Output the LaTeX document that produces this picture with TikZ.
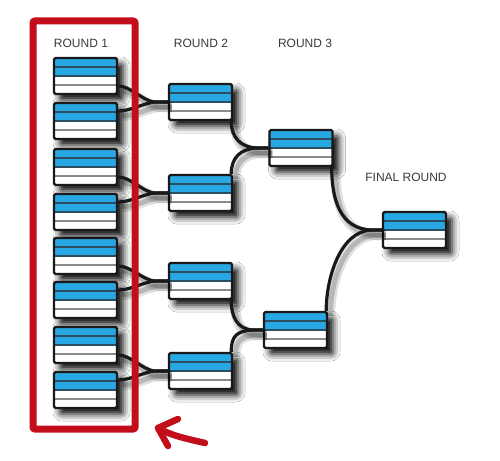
\documentclass[tikz,border=0pt]{standalone}
\usepackage{fontspec}
\setmainfont{Liberation Sans}
\usetikzlibrary{calc,shadows.blur}
\definecolor{bblue}{HTML}{27A8E3}
\definecolor{bdiv}{HTML}{2B4E63}
\definecolor{wdiv}{HTML}{8A8A8A}
\definecolor{fred}{HTML}{C20E1A}
\definecolor{lbl}{HTML}{3A3A3A}
\newcommand\joinA[3]{%
  \coordinate (m#3) at ($(#3.west)+(-14,0)$);
  \draw[conn] ($(#1.east)+(0,10)$) .. controls +(12,0) and ($(m#3)+(-12,-2)$) .. (m#3) -- (#3.west);
  \draw[conn] ($(#2.east)+(0,-10)$) .. controls +(12,0) and ($(m#3)+(-12,2)$) .. (m#3) -- (#3.west);
}
\newcommand\joinB[5]{%
  \coordinate (m#3) at ($(#3.west)+(-#4,0)$);
  \draw[conn] ($(#1.south east)+(-2,0)$) .. controls +(0,#5) and ($(m#3)+(-#5,-1)$) .. (m#3) -- (#3.west);
  \draw[conn] ($(#2.north east)+(-2,0)$) .. controls +(0,-#5) and ($(m#3)+(-#5,1)$) .. (m#3) -- (#3.west);
}
\begin{document}
\begin{tikzpicture}[x=1pt,y=-1pt,
  match/.style={rounded corners=1.5pt, outer sep=1.2pt,
    minimum width=63pt, minimum height=36pt, inner sep=0pt, fill=white,
    blur shadow={shadow xshift=6pt, shadow yshift=-6pt, shadow blur radius=7pt, shadow opacity=100},
    path picture={
      \fill[bblue] (path picture bounding box.north west) rectangle (path picture bounding box.east);
      \draw[bdiv, line width=1.3pt]
        ($(path picture bounding box.north west)!0.25!(path picture bounding box.south west)$) --
        ($(path picture bounding box.north east)!0.25!(path picture bounding box.south east)$);
      \draw[bdiv, line width=1.3pt] (path picture bounding box.west) -- (path picture bounding box.east);
      \draw[wdiv, line width=1.3pt]
        ($(path picture bounding box.north west)!0.75!(path picture bounding box.south west)$) --
        ($(path picture bounding box.north east)!0.75!(path picture bounding box.south east)$);
    },
    postaction={draw=black!90, line width=2.4pt}},
  conn/.style={line width=3.2pt, draw=black!90,
    preaction={draw=black, line width=10pt, opacity=0.12, transform canvas={xshift=4pt,yshift=-5pt}},
    preaction={draw=black, line width=5pt, opacity=0.18, transform canvas={xshift=4pt,yshift=-5pt}}},
  lbl/.style={text=lbl, font=\fontsize{12}{14}\selectfont, inner sep=0pt},
]
\fill[white] (0,0) rectangle (500,460);
\useasboundingbox (0,0) rectangle (500,460);

% labels
\node[lbl] (t1) at (81,43) {ROUND 1};
\node[lbl] (t2) at (201,43) {ROUND 2};
\node[lbl] (t3) at (305,43) {ROUND 3};
\node[lbl] (t4) at (406,177) {FINAL ROUND};

% matches
\path (85.5,76) node[match] (a1) {} (85.5,121) node[match] (a2) {}
      (85.5,167) node[match] (a3) {} (85.5,212) node[match] (a4) {}
      (85.5,256) node[match] (a5) {} (85.5,300) node[match] (a6) {}
      (85.5,345) node[match] (a7) {} (85.5,390) node[match] (a8) {};
\path (200.5,102) node[match] (b1) {} (200.5,193) node[match] (b2) {}
      (200.5,281) node[match] (b3) {} (200.5,371) node[match] (b4) {};
\path (301,148) node[match] (c1) {} (295.5,330) node[match] (c2) {};
\path (414.5,230) node[match] (d1) {};

% connectors
\joinA{a1}{a2}{b1}
\joinA{a3}{a4}{b2}
\joinA{a5}{a6}{b3}
\joinA{a7}{a8}{b4}
\joinB{b1}{b2}{c1}{12}{16}
\joinB{b3}{b4}{c2}{10}{16}
\joinB{c1}{c2}{d1}{10}{32}

% red highlight frame and arrow
\draw[fred, line width=7pt, rounded corners=2pt] (33,21) rectangle (135,429);
\draw[fred, line width=6.5pt, line cap=round, line join=round]
  (178,419) -- (158,428) -- (168,446);
\draw[fred, line width=6.5pt, line cap=round]
  (158,428) .. controls (172,436) and (188,439) .. (205,443);
\end{tikzpicture}
\end{document}
